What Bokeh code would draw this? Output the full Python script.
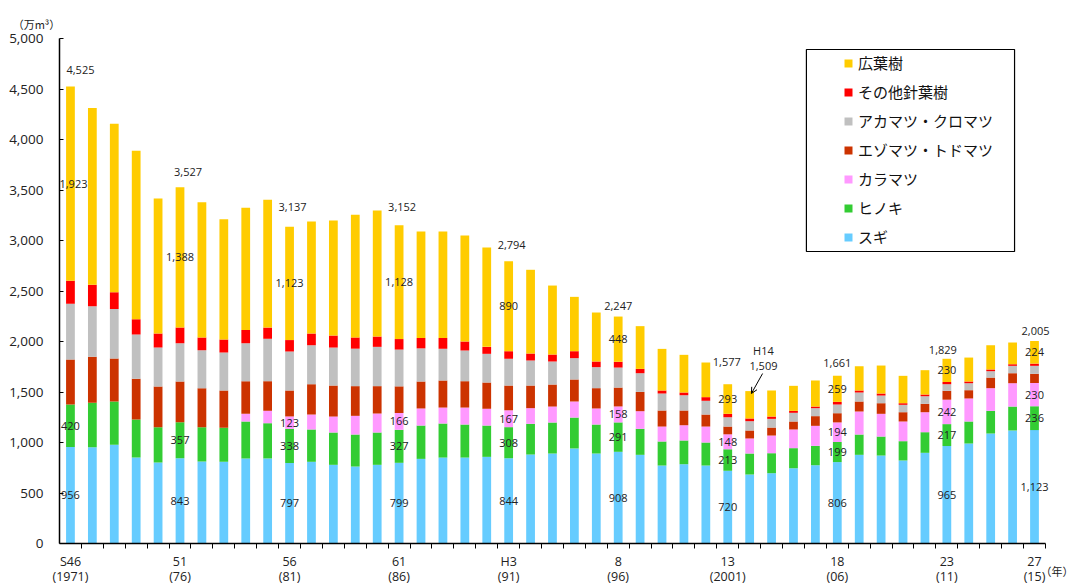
from bokeh.plotting import figure
from bokeh.models import (ColumnDataSource, FixedTicker, NumeralTickFormatter, Legend,
                          LegendItem, BoxAnnotation, Arrow, OpenHead, Range1d)
from bokeh.core.properties import value
from bokeh.embed import file_html
from bokeh.resources import INLINE

# 素材生産量の推移（樹種別、万m³）1971〜2015年
years = list(range(1971, 2016))

sugi = [956, 953, 977, 851, 802, 843, 812, 809, 842, 842,
        797, 809, 779, 762, 779, 799, 838, 851, 851, 858,
        844, 881, 891, 941, 891, 908, 878, 772, 785, 772,
        720, 683, 696, 745, 775, 806, 878, 871, 822, 898,
        965, 990, 1089, 1119, 1123]
hinoki = [420, 440, 429, 377, 349, 357, 340, 336, 366, 349,
          338, 320, 320, 317, 320, 327, 330, 337, 327, 310,
          308, 304, 307, 306, 287, 291, 257, 238, 235, 228,
          213, 208, 198, 199, 192, 199, 201, 188, 191, 204,
          217, 218, 224, 237, 236]
karamatsu = [0, 0, 0, 0, 0, 0, 0, 0, 76, 123,
             123, 148, 158, 185, 188, 166, 169, 158, 168, 166,
             167, 155, 158, 159, 159, 158, 175, 148, 151, 158,
             148, 149, 175, 185, 198, 194, 228, 225, 195, 198,
             242, 228, 225, 231, 230]
ezo_todo = [446, 455, 425, 402, 403, 404, 386, 370, 323, 293,
            257, 300, 307, 294, 271, 264, 267, 268, 261, 260,
            245, 224, 218, 218, 201, 187, 191, 159, 146, 119,
            77, 79, 79, 79, 96, 91, 99, 105, 92, 83,
            88, 82, 105, 99, 91]
aka_kuro = [551, 501, 492, 439, 386, 379, 376, 376, 376, 420,
            386, 386, 376, 371, 389, 364, 328, 314, 304, 284,
            265, 248, 228, 211, 208, 198, 185, 168, 151, 136,
            92, 92, 86, 86, 79, 86, 89, 76, 73, 75,
            65, 69, 63, 73, 79]
other_conifer = [229, 212, 165, 152, 139, 156, 125, 129, 130, 111,
                 113, 116, 119, 111, 102, 104, 103, 107, 89, 69,
                 75, 69, 69, 69, 56, 57, 43, 30, 27, 36,
                 34, 27, 23, 19, 16, 26, 20, 20, 16, 17,
                 22, 17, 17, 16, 22]
broadleaf = [1923, 1750, 1667, 1667, 1337, 1388, 1340, 1191, 1211, 1265,
             1123, 1109, 1139, 1215, 1248, 1128, 1054, 1054, 1049, 983,
             890, 829, 683, 538, 485, 448, 423, 412, 373, 343,
             293, 271, 258, 248, 258, 259, 240, 277, 271, 241,
             230, 237, 240, 215, 224]

series_names = ["スギ", "ヒノキ", "カラマツ", "エゾマツ・トドマツ",
                "アカマツ・クロマツ", "その他針葉樹", "広葉樹"]
series_keys = ["sugi", "hinoki", "karamatsu", "ezo", "aka", "other", "broad"]
series_colors = ["#66CCFF", "#33CC33", "#FF99FF", "#CC3300",
                 "#C0C0C0", "#FF0000", "#FFCC00"]

# 目盛ラベル（和暦／西暦）
tick_years = [1971, 1976, 1981, 1986, 1991, 1996, 2001, 2006, 2011, 2015]
tick_era = ["S46", "51", "56", "61", "H3", "8", "13", "18", "23", "27"]
tick_ad = ["(1971)", "(76)", "(81)", "(86)", "(91)", "(96)", "(2001)", "(06)", "(11)", "(15)"]
x_unit = "（年）"
y_unit = "（万m³）"

highlight_year = 2002
highlight_era = "H14"

n = len(years)
xs = list(range(n))
totals = [sum(v) for v in zip(sugi, hinoki, karamatsu, ezo_todo, aka_kuro,
                               other_conifer, broadleaf)]

source = ColumnDataSource(dict(x=xs, sugi=sugi, hinoki=hinoki, karamatsu=karamatsu,
                               ezo=ezo_todo, aka=aka_kuro, other=other_conifer,
                               broad=broadleaf))

# 描画領域は画面全体、軸はデータ上の位置に固定する
Y_MAX = 5000
PX = Y_MAX / 505.0        # 縦: 1ピクセルあたりの値
SLOT = 21.91              # 横: 1本あたりのピクセル
AX_LEFT = 59              # 縦軸の位置（ピクセル）
AX_BOTTOM = 543           # 横軸の位置（ピクセル）
AX_TOP = 38               # 5,000 の位置（ピクセル）
W, H = 1074, 586

p = figure(width=W, height=H, output_backend="svg", toolbar_location=None,
           x_range=Range1d(-0.5 - AX_LEFT / SLOT, -0.5 + (W - AX_LEFT) / SLOT),
           y_range=Range1d(-(H - AX_BOTTOM) * PX, Y_MAX + AX_TOP * PX),
           min_border_left=0, min_border_right=0, min_border_top=0,
           min_border_bottom=0)
p.background_fill_color = "white"
p.outline_line_color = None
p.xgrid.visible = False
p.ygrid.visible = False

renderers = p.vbar_stack(series_keys, x="x", width=0.4, color=series_colors,
                         line_color=None, source=source)

# 縦軸
ya = p.yaxis[0]
ya.fixed_location = -0.5
ya.bounds = (0, Y_MAX)
ya.ticker = FixedTicker(ticks=list(range(0, Y_MAX + 1, 500)), minor_ticks=[])
ya.formatter = NumeralTickFormatter(format="0,0")
ya.major_tick_in = 4
ya.major_tick_out = 0
ya.minor_tick_out = 0
ya.axis_line_color = "black"
ya.axis_line_width = 1.5
ya.major_tick_line_color = "black"
ya.major_label_standoff = 16
ya.major_label_text_font = "Open Sans"
ya.major_label_text_font_size = "13.5px"
ya.major_label_text_color = "#222222"

p.text(x=[-0.5], y=[Y_MAX], text=[y_unit], x_offset=-23, y_offset=-15,
       text_font=value("Noto Sans CJK JP"), text_font_size="11px",
       text_color="#222222", text_align="center", text_baseline="middle")

# 横軸
tick_idx = [years.index(y) for y in tick_years]
xa = p.xaxis[0]
xa.fixed_location = 0
xa.bounds = (-0.5, n - 0.5)
xa.ticker = FixedTicker(ticks=tick_idx, minor_ticks=[i + 0.5 for i in range(n)])
xa.major_label_overrides = {i: f"{a}\n{b}" for i, a, b in zip(tick_idx, tick_era, tick_ad)}
xa.axis_line_color = "black"
xa.axis_line_width = 1.5
xa.major_tick_out = 0
xa.major_tick_in = 0
xa.minor_tick_out = 5
xa.minor_tick_in = 0
xa.minor_tick_line_color = "black"
xa.major_label_standoff = 4
xa.major_label_text_font = "Open Sans"
xa.major_label_text_font_size = "12.5px"
xa.major_label_text_line_height = 0.9
xa.major_label_text_color = "#222222"

p.text(x=[n - 1], y=[0], text=[x_unit], x_offset=39, y_offset=27,
       text_font=value("Noto Sans CJK JP"), text_font_size="11px",
       text_color="#222222", text_align="right", text_baseline="middle")

# データラベル
def fmt(v):
    return f"{v:,}"

lx, ly, lt, ldx, ldy = [], [], [], [], []
total_dx = [10, 8, 3, 3, 3, 0, -1, 0, -4, 1]
total_dy = [-16, -15, -20, -18, -16, -11, -22, -13, -9, -10]
for k, i in enumerate(tick_idx):
    base = 0
    for vals in (sugi, hinoki, karamatsu):
        if vals[i] > 0:
            lx.append(i); ly.append(base + vals[i] / 2); lt.append(fmt(vals[i]))
            ldx.append(0); ldy.append(0)
        base += vals[i]
    lx.append(i); ly.append(totals[i] - broadleaf[i] / 2); lt.append(fmt(broadleaf[i]))
    ldx.append(3 if k == 0 else 0); ldy.append(0)
    lx.append(i); ly.append(totals[i]); lt.append(fmt(totals[i]))
    ldx.append(total_dx[k]); ldy.append(total_dy[k])

hi = years.index(highlight_year)
lx += [hi + 0.63, hi + 0.63]
ly += [totals[hi], totals[hi]]
lt += [highlight_era, fmt(totals[hi])]
ldx += [0, 0]
ldy += [-41, -25]

lab_src = ColumnDataSource(dict(x=lx, y=ly, text=lt, dx=ldx, dy=ldy))
p.text(x="x", y="y", text="text", x_offset="dx", y_offset="dy", source=lab_src,
       text_font=value("Open Sans"), text_font_size="11px", text_color="#222222",
       text_align="center", text_baseline="middle")

p.add_layout(Arrow(end=OpenHead(size=6, line_width=1, line_color="black"),
                   x_start=hi + 0.59, y_start=totals[hi] + 174,
                   x_end=hi + 0.08, y_end=totals[hi] - 24,
                   line_color="black", line_width=1))

# 凡例
p.add_layout(BoxAnnotation(left=33.59, right=43.09, bottom=2891, top=4891,
                           fill_color="white", fill_alpha=1.0,
                           line_color="black", line_width=1.2, line_alpha=1.0))
items = [LegendItem(label=name, renderers=[r])
         for name, r in zip(series_names, renderers)][::-1]
legend = Legend(items=items, location=(843, 339), padding=0, margin=0, spacing=8,
                label_height=20, glyph_height=10, glyph_width=10, label_standoff=5,
                border_line_alpha=0, background_fill_alpha=0,
                label_text_font="Noto Sans CJK JP", label_text_font_size="15px",
                label_text_color="#111111")
p.add_layout(legend)

open("out.html", "w").write(file_html(p, INLINE))
